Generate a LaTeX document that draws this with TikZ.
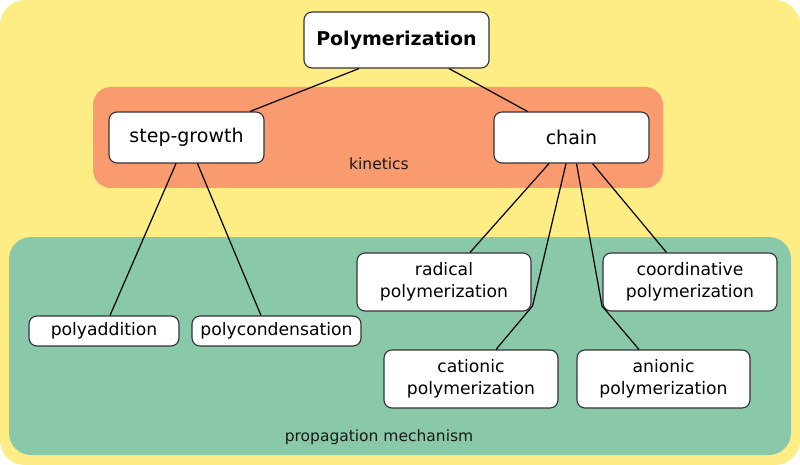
\documentclass[tikz,border=0pt]{standalone}
\usepackage{fontspec}
\setmainfont{DejaVu Sans}
\usetikzlibrary{positioning}

\definecolor{bgyellow}{HTML}{FEEC84}
\definecolor{kinorange}{HTML}{F99A6F}
\definecolor{propgreen}{HTML}{89C8A9}
\definecolor{boxline}{HTML}{333333}

\tikzset{
  box/.style={draw=boxline, line width=1.1pt, fill=white, rounded corners=8pt,
    align=center, inner sep=0pt},
  bigbox/.style={box, font=\fontsize{19}{23}\selectfont},
  smallbox/.style={box, font=\fontsize{17.2}{21.5}\selectfont},
  grouplabel/.style={font=\fontsize{15.5}{18}\selectfont, text=black!90},
  link/.style={line width=1.2pt, black}
}

\begin{document}
\begin{tikzpicture}[x=1pt, y=-1pt]
      \useasboundingbox (0,0) rectangle (800,465);
      % groups
      \fill[bgyellow, rounded corners=25pt] (0,0) rectangle (800,465);
      \fill[kinorange, rounded corners=18pt] (93,87) rectangle (663,188);
      \fill[propgreen, rounded corners=22pt] (9,237) rectangle (791,455);
      \node[grouplabel] (kin) at (379,164) {kinetics};
      \node[grouplabel] (prop) at (379,437) {propagation mechanism};

      % nodes
      \node[bigbox, minimum width=185pt, minimum height=56pt, font=\fontsize{19}{23}\selectfont\bfseries] (top) at (396.5,40) {Polymerization};
      \node[bigbox, minimum width=155pt, minimum height=51pt] (step) at (186.5,137.5) {step-growth};
      \node[bigbox, minimum width=155pt, minimum height=51pt] (chain) at (571.5,137.5) {chain};
      \node[smallbox, minimum width=150pt, minimum height=30pt] (polyadd) at (104,331) {polyaddition};
      \node[smallbox, minimum width=169pt, minimum height=30pt] (polycond) at (276.5,331) {polycondensation};
      \node[smallbox, minimum width=174pt, minimum height=58pt] (radical) at (444,282) {radical\\polymerization};
      \node[smallbox, minimum width=174pt, minimum height=58pt] (coord) at (690,282) {coordinative\\polymerization};
      \node[smallbox, minimum width=174pt, minimum height=58pt] (cationic) at (471,379) {cationic\\polymerization};
      \node[smallbox, minimum width=173pt, minimum height=58pt] (anionic) at (663.5,379) {anionic\\polymerization};

      % bends
      \coordinate (bendc) at (532.5,306);
      \coordinate (benda) at (602,306);

      % links
      \draw[link] ([xshift=-37.5pt]top.south) -- ([xshift=63.5pt]step.north);
      \draw[link] ([xshift=52.5pt]top.south) -- ([xshift=-44pt]chain.north);
      \draw[link] ([xshift=-10.5pt]step.south) -- ([xshift=6pt]polyadd.north);
      \draw[link] ([xshift=11pt]step.south) -- ([xshift=-15.5pt]polycond.north);
      \draw[link] ([xshift=-22.5pt]chain.south) -- ([xshift=26pt]radical.north);
      \draw[link] ([xshift=-5.5pt]chain.south) -- (bendc) -- ([xshift=25pt]cationic.north);
      \draw[link] ([xshift=5pt]chain.south) -- (benda) -- ([xshift=-24.5pt]anionic.north);
      \draw[link] ([xshift=21pt]chain.south) -- ([xshift=-23.5pt]coord.north);
    \end{tikzpicture}
\end{document}
